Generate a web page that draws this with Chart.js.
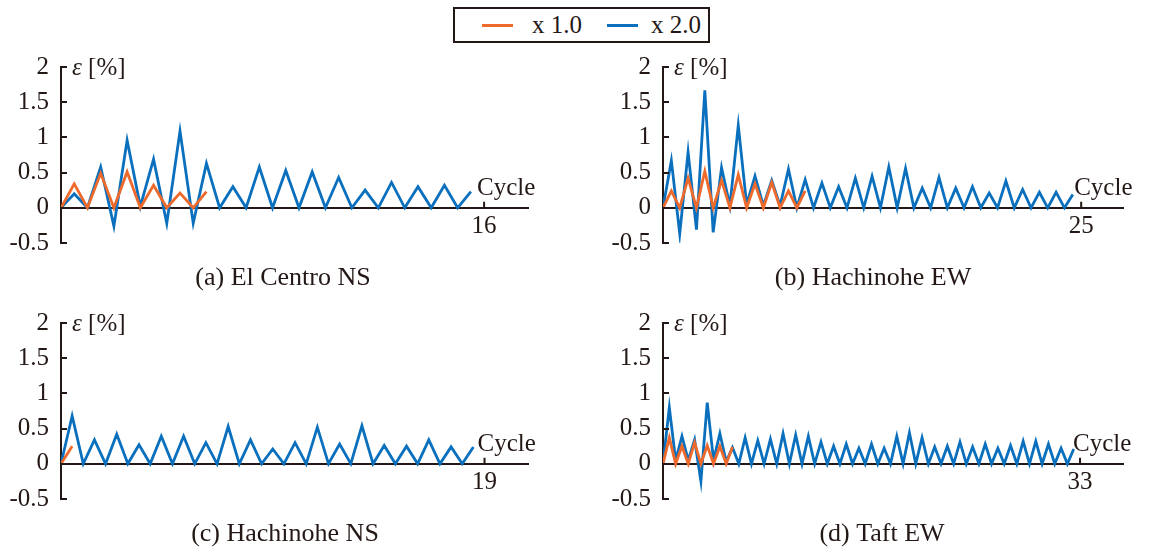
<!DOCTYPE html>
<html>
<head>
<meta charset="utf-8">
<script src="https://cdn.jsdelivr.net/npm/chart.js@4"></script>
<style>
  body { margin: 0; background: #fff; width: 1150px; height: 551px; position: relative; overflow: hidden; font-family: "Liberation Serif", "DejaVu Serif", serif; color: #231815; }
  canvas { position: absolute; }
  #legend { position: absolute; left: 453px; top: 7px; width: 253px; height: 32px; border: 2px solid #231815; font-size: 25px; }
  #legend span { position: absolute; top: 0; line-height: 32px; }
  #legend i { position: absolute; top: 15px; height: 3px; }
</style>
</head>
<body>
<div id="legend">
  <i style="left:27px;width:31px;background:#ee6a2c"></i><span style="left:77px">x 1.0</span>
  <i style="left:152px;width:31px;background:#0a70bd"></i><span style="left:196px">x 2.0</span>
</div>
<canvas id="pa" width="575" height="260" style="left:0;top:40px"></canvas>
<canvas id="pb" width="548" height="260" style="left:602px;top:40px"></canvas>
<canvas id="pc" width="575" height="260" style="left:0;top:296px"></canvas>
<canvas id="pd" width="548" height="260" style="left:602px;top:296px"></canvas>
<script>
// strain peaks per half cycle [%]
const elCentro1 = [0, 0.34, 0, 0.49, 0, 0.51, 0, 0.32, 0, 0.21, 0, 0.23];
const elCentro2 = [0, 0.2, 0, 0.58, -0.26, 0.96, 0.02, 0.69, -0.22, 1.09, -0.22, 0.63, 0, 0.3, 0, 0.58,
  0, 0.53, 0, 0.51, 0, 0.43, 0, 0.25, 0, 0.36, 0, 0.3, 0, 0.32, 0, 0.23];

const hachiEW1 = [0, 0.24, 0, 0.42, 0, 0.52, 0, 0.39, 0, 0.47, 0, 0.34, 0, 0.36, 0, 0.24, 0, 0.24];
const hachiEW2 = [0, 0.67, -0.37, 0.79, -0.31, 1.67, -0.35, 0.57, 0.03, 1.17, 0.05, 0.45, 0.03, 0.39, 0.03, 0.55,
  0, 0.4, 0, 0.35, 0, 0.3, 0, 0.42, 0, 0.45, 0, 0.58, 0, 0.56, 0, 0.28, 0, 0.43, 0, 0.28,
  0, 0.3, 0, 0.21, 0, 0.38, 0, 0.26, 0, 0.22, 0, 0.22, 0, 0.19];

const hachiNS1 = [0, 0.25];
const hachiNS2 = [0, 0.68, 0, 0.34, 0, 0.42, 0, 0.27, 0, 0.39, 0, 0.39, 0, 0.3, 0, 0.53, 0, 0.34,
  0, 0.21, 0, 0.3, 0, 0.52, 0, 0.28, 0, 0.54, 0, 0.26, 0, 0.25, 0, 0.34, 0, 0.24, 0, 0.24];

const taft1 = [0, 0.37, 0, 0.25, 0, 0.3, 0, 0.26, 0, 0.25, 0, 0.24];
const taft2 = [0, 0.8, 0.05, 0.39, 0.05, 0.34, -0.25, 0.87, 0.05, 0.43, 0.03, 0.23, 0, 0.37, 0, 0.33,
  0, 0.35, 0, 0.43, 0, 0.41, 0, 0.39, 0, 0.31, 0, 0.25, 0, 0.28, 0, 0.22, 0, 0.28, 0, 0.22,
  0, 0.39, 0, 0.44, 0, 0.37, 0, 0.24, 0, 0.25, 0, 0.31, 0, 0.24, 0, 0.28, 0, 0.22, 0, 0.26,
  0, 0.32, 0, 0.32, 0, 0.28, 0, 0.22, 0, 0.21];

const yTicks = [-0.5, 0, 0.5, 1, 1.5, 2];
const ink = '#231815';
const FONT = '"Liberation Serif", "DejaVu Serif", serif';

function toPoints(arr) {
  // one value every half cycle
  return arr.map((v, i) => ({ x: i / 2, y: v }));
}

// small inward ticks, axis labels and panel caption
const decor = {
  id: 'decor',
  afterDraw(chart, args, o) {
    const ctx = chart.ctx, x = chart.scales.x, y = chart.scales.y;
    const left = chart.chartArea.left, y0 = y.getPixelForValue(0);
    ctx.save();
    ctx.strokeStyle = ink;
    ctx.lineWidth = 2;
    ctx.beginPath();
    yTicks.forEach(t => {
      const py = Math.round(y.getPixelForValue(t));
      ctx.moveTo(left, py);
      ctx.lineTo(left + 6, py);
    });
    const tx = x.getPixelForValue(o.last);
    ctx.moveTo(tx, y0);
    ctx.lineTo(tx, y0 - 6);
    ctx.stroke();

    ctx.fillStyle = ink;
    ctx.textBaseline = 'alphabetic';
    ctx.textAlign = 'left';
    const top = y.getPixelForValue(2);
    ctx.font = 'italic 25px ' + FONT;
    ctx.fillText('ε', left + 11, top + 8);
    const ew = ctx.measureText('ε ').width;
    ctx.font = '25px ' + FONT;
    ctx.fillText('[%]', left + 11 + ew, top + 8);
    ctx.fillText('Cycle', tx - 7, y0 - 13);

    ctx.font = '26px ' + FONT;
    ctx.textAlign = 'center';
    ctx.textBaseline = 'middle';
    ctx.fillText(o.title, o.titleX, 238);
    ctx.restore();
  }
};

function makePanel(id, s1, s2, last, xMax, padRight, title, titleX) {
  new Chart(document.getElementById(id), {
    type: 'line',
    data: {
      datasets: [
        { label: 'x 1.0', data: toPoints(s1), borderColor: '#ee6a2c', borderWidth: 2.8, pointRadius: 0, tension: 0 },
        { label: 'x 2.0', data: toPoints(s2), borderColor: '#0a70bd', borderWidth: 2.8, pointRadius: 0, tension: 0 }
      ]
    },
    options: {
      responsive: false,
      animation: false,
      layout: { padding: { top: 20, right: padRight, bottom: 57, left: 0 } },
      plugins: {
        legend: { display: false },
        tooltip: { enabled: false },
        decor: { last: last, title: title, titleX: titleX }
      },
      scales: {
        x: {
          type: 'linear',
          position: { y: 0 },
          min: 0,
          max: xMax,
          grid: { display: false, drawTicks: false },
          border: { display: true, color: ink, width: 2 },
          afterBuildTicks: s => { s.ticks = [{ value: last }]; },
          ticks: { color: ink, font: { family: FONT, size: 25 }, padding: 4, maxRotation: 0, callback: v => String(v) }
        },
        y: {
          min: -0.5,
          max: 2,
          afterFit: s => { s.width = 61; },
          afterBuildTicks: s => { s.ticks = yTicks.map(v => ({ value: v })); },
          grid: { display: false, drawTicks: false },
          border: { display: true, color: ink, width: 2 },
          ticks: { color: ink, font: { family: FONT, size: 25 }, padding: 12, callback: v => String(v) }
        }
      }
    },
    plugins: [decor]
  });
}

makePanel('pa', elCentro1, elCentro2, 16, 17.66, 47, '(a) El Centro NS', 283);
makePanel('pb', hachiEW1, hachiEW2, 25, 27.5, 27, '(b) Hachinohe EW', 271);
makePanel('pc', hachiNS1, hachiNS2, 19, 20.95, 47, '(c) Hachinohe NS', 285);
makePanel('pd', taft1, taft2, 33, 36.4, 27, '(d) Taft EW', 280);
</script>
</body>
</html>
